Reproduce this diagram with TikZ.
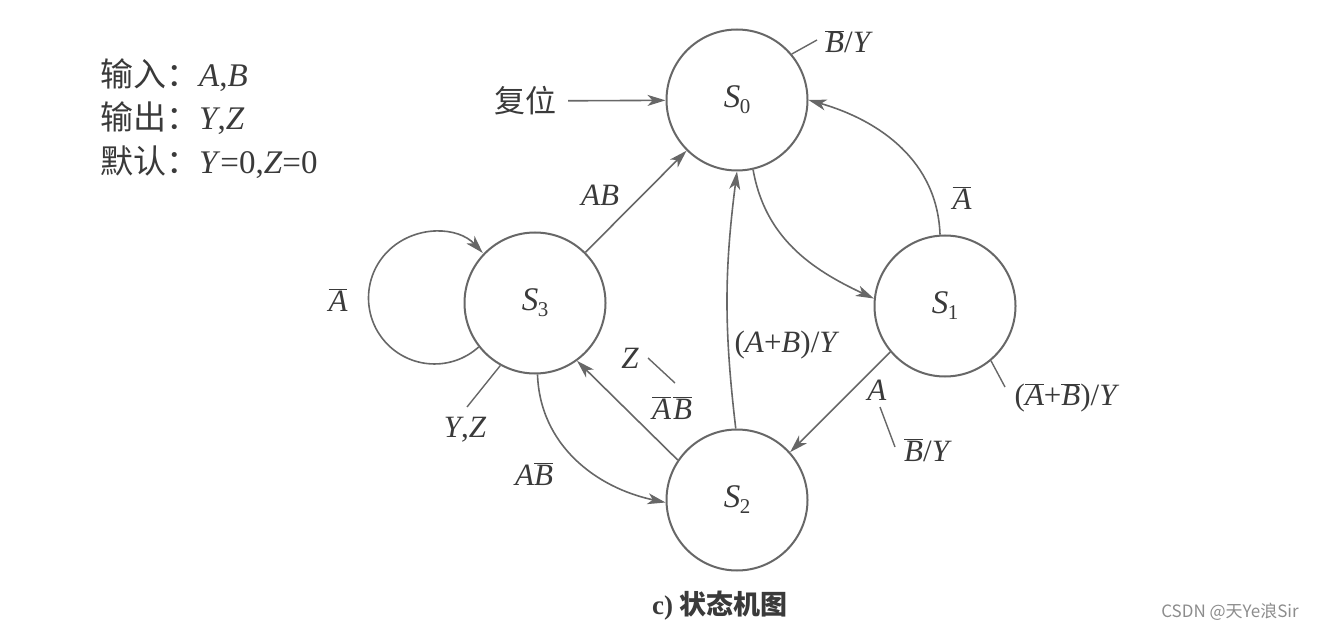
\documentclass[tikz,border=0pt]{standalone}
\usepackage{fontspec}
\setmainfont{Liberation Serif}
\newfontfamily\cjk{Noto Sans CJK SC}
\usetikzlibrary{arrows.meta}
\definecolor{ink}{HTML}{3A3A3A}
\definecolor{ln}{HTML}{676767}
\definecolor{wm}{HTML}{8C8C8C}
\newcommand{\ob}[1]{$\overline{\mbox{\itshape #1}}$}
\newcommand{\sn}[1]{{\itshape S}\kern-0.5pt\raisebox{-0.4ex}{\fontsize{21}{21}\selectfont #1}}
\tikzset{
  state/.style={circle, draw=ln, line width=2pt, minimum size=141pt, inner sep=0pt,
    font=\fontsize{33}{36}\selectfont, text=ink},
  lbl/.style={font=\fontsize{31}{34}\selectfont, text=ink, inner sep=0pt},
  leg/.style={font=\fontsize{33}{36}\selectfont, text=ink, inner sep=0pt, anchor=west},
  arr/.style={draw=ln, line width=1.6pt, -{Stealth[length=18pt,width=11pt,inset=5pt]}},
  tick/.style={draw=ln, line width=1.4pt}
}
\begin{document}
\begin{tikzpicture}[x=1pt,y=-1pt]
\useasboundingbox (0,0) rectangle (1325,631);
% legend
\node[leg] (l1) at (100,75) {{\cjk 输入：}\textit{A},\textit{B}};
\node[leg] (l2) at (100,118) {{\cjk 输出：}\textit{Y},\textit{Z}};
\node[leg] (l3) at (100,162) {{\cjk 默认：}\textit{Y}=0,\textit{Z}=0};
% states
\node[state] (S0) at (737,100) {\sn{0}};
\node[state] (S1) at (945,306) {\sn{1}};
\node[state] (S2) at (737,500) {\sn{2}};
\node[state] (S3) at (535,303) {\sn{3}};
% reset
\node[lbl] (reset) at (525,101) {\cjk 复位};
\draw[arr, shorten <=12pt] (reset) -- (S0);
% transitions
\draw[arr] (S3) -- (S0);
\draw[arr] (S0.-77) to[out=-80, in=155] (S1.174);
\draw[arr] (S1.94) to[out=92, in=-16] (S0.0);
\draw[arr] (S1.220) -- (S2.42);
\draw[arr] (S2.91) to[bend left=7] (S0.-90);
\draw[arr] (S2.146) -- (S3.-54);
\draw[arr] (S3.-88) to[out=-88, in=168] (S2.182);
\draw[arr] (S3.218) arc[start angle=48, end angle=317, radius=66];
% edge labels
\node[lbl] (lA1) at (962,198) {\ob{A}};
\node[lbl] (lAB) at (600,195) {\textit{AB}};
\node[lbl] (lApB) at (787,345) {(\textit{A}+\textit{B})/\textit{Y}};
\node[lbl] (lA) at (877,390) {\textit{A}};
\node[lbl] (lBY1) at (928,450) {\ob{B}/\textit{Y}};
\node[lbl] (lS1out) at (1067,398) {(\ob{A}+\ob{B})/\textit{Y}};
\node[lbl] (lZ) at (630,358) {\textit{Z}};
\node[lbl] (lAnBn) at (672,408) {\ob{A}\kern2pt\ob{B}};
\node[lbl] (lYZ) at (465,430) {\textit{Y},\textit{Z}};
\node[lbl] (lABn) at (534,474) {\textit{A}\ob{B}};
\node[lbl] (lAloop) at (338,300) {\ob{A}};
\node[lbl] (lBY0) at (849,42) {\ob{B}/\textit{Y}};
% ticks
\coordinate (t0) at (817,40);
\draw[tick] (S0.40) -- (t0);
\coordinate (t1) at (1005,387);
\draw[tick] (S1.-50) -- (t1);
\coordinate (t3) at (467,407);
\draw[tick] (S3.241) -- (t3);
\coordinate (ta) at (880,407);
\coordinate (tb) at (895,447);
\draw[tick] (ta) -- (tb);
\coordinate (tz) at (648,358);
\coordinate (tw) at (675,383);
\draw[tick] (tz) -- (tw);
% caption and watermark
\node[lbl, font=\fontsize{27}{30}\selectfont\bfseries] (cap) at (720,606) {c) {\cjk\bfseries 状态机图}};
\node[inner sep=0pt, text=wm, font=\fontsize{17}{20}\selectfont\cjk] (wmk) at (1230,612) {CSDN @天Ye浪Sir};
\end{tikzpicture}
\end{document}
